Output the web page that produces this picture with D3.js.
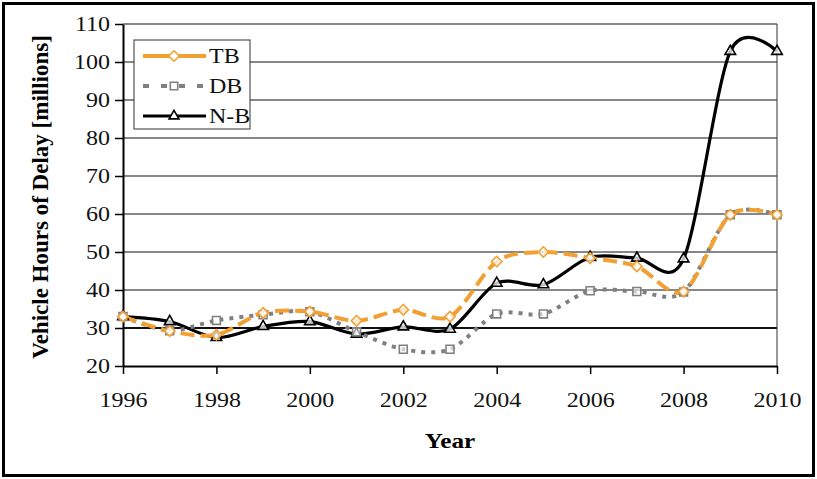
<!DOCTYPE html>
<html>
<head>
<meta charset="utf-8">
<script src="https://cdn.jsdelivr.net/npm/d3@7"></script>
<style>
  body { margin: 0; background: #fff; }
  text { font-family: "Liberation Serif", "Times New Roman", serif; }
</style>
</head>
<body>
<div id="chart"></div>
<script>
const years = [1996, 1997, 1998, 1999, 2000, 2001, 2002, 2003, 2004, 2005, 2006, 2007, 2008, 2009, 2010];
const tbValues = [33, 29.2, 28.2, 34, 34.3, 31.9, 34.8, 33, 47.5, 50, 48.4, 46.2, 39.6, 59.8, 59.8];
const dbValues = [33, 29.3, 32, 33.5, 34.3, 29, 24.4, 24.4, 33.7, 33.7, 39.8, 39.6, 39.5, 59.8, 59.8];
const nbValues = [33, 31.7, 27.5, 30.4, 31.7, 28.4, 30.3, 29.7, 41.8, 41.4, 48.6, 48.4, 48.2, 102.8, 102.8];
const xTicks = [1996, 1998, 2000, 2002, 2004, 2006, 2008, 2010];
const yTicks = [20, 30, 40, 50, 60, 70, 80, 90, 100, 110];

const series = [
  { name: 'TB',  values: tbValues, color: '#F2A032', width: 4,   dash: '14,6', marker: d3.symbolDiamond2, mColor: '#F2A032' },
  { name: 'DB',  values: dbValues, color: '#808080', width: 4,   dash: '4,6',  marker: d3.symbolSquare2,  mColor: '#808080' },
  { name: 'N-B', values: nbValues, color: '#000000', width: 3.2, dash: null,   marker: d3.symbolTriangle2, mColor: '#000000' }
];

const W = 817, H = 479;
const margin = { top: 24, right: 40, bottom: 113, left: 123 };
const stretch = 1.2; // the reference text is wide

const svg = d3.select('#chart').append('svg')
  .attr('width', W).attr('height', H);

// outer frame
svg.append('rect')
  .attr('x', 3.5).attr('y', 3.5).attr('width', W - 7).attr('height', H - 7)
  .attr('fill', 'none').attr('stroke', '#000').attr('stroke-width', 3);

const x = d3.scaleLinear().domain([1996, 2010]).range([margin.left, W - margin.right]);
const y = d3.scaleLinear().domain([20, 110]).range([H - margin.bottom, margin.top]);

// gridlines
svg.append('g').selectAll('line').data(yTicks.filter(d => d > 20)).join('line')
  .attr('x1', x(1996)).attr('x2', x(2010))
  .attr('y1', d => y(d)).attr('y2', d => y(d))
  .attr('stroke', '#111').attr('stroke-width', d => d === 30 ? 1.8 : 1.1);

// right border of plot area
svg.append('line')
  .attr('x1', x(2010)).attr('x2', x(2010)).attr('y1', y(110)).attr('y2', y(20))
  .attr('stroke', '#333').attr('stroke-width', 1);

// axes
const xAxis = svg.append('g')
  .attr('transform', `translate(0,${y(20)})`)
  .call(d3.axisBottom(x).tickValues(xTicks).tickFormat(d3.format('d')).tickSize(8).tickSizeOuter(0).tickPadding(17));
const yAxis = svg.append('g')
  .attr('transform', `translate(${x(1996)},0)`)
  .call(d3.axisLeft(y).tickValues(yTicks).tickSize(8).tickSizeOuter(0).tickPadding(5));

[xAxis, yAxis].forEach(a => {
  a.select('.domain').attr('stroke', '#000').attr('stroke-width', 2);
  a.selectAll('.tick line').attr('stroke', '#000').attr('stroke-width', 1.5);
  a.selectAll('.tick text').attr('fill', '#111').style('font-size', '20px')
    .style('font-family', '"Liberation Serif", serif');
});
xAxis.selectAll('.tick text').attr('dy', '0.8em');

// lines
const line = d3.line()
  .x((d, i) => x(years[i]))
  .y(d => y(d))
  .curve(d3.curveCardinal.tension(0.1));

const order = [series[2], series[1], series[0]];
order.forEach(s => {
  svg.append('path')
    .datum(s.values)
    .attr('d', line)
    .attr('fill', 'none')
    .attr('stroke', s.color)
    .attr('stroke-width', s.width)
    .attr('stroke-dasharray', s.dash)
    .attr('stroke-linejoin', 'round');
});
order.forEach(s => {
  svg.append('g').selectAll('path').data(s.values).join('path')
    .attr('transform', (d, i) => `translate(${x(years[i])},${y(d)})`)
    .attr('d', d3.symbol().type(s.marker).size(s.name === 'TB' ? 70 : 80))
    .attr('fill', s.name === 'DB' ? 'rgba(255,255,255,0.6)' : 'rgba(255,255,255,0.75)')
    .attr('stroke', s.mColor)
    .attr('stroke-width', 1.6);
});

// legend
const lg = svg.append('g');
lg.append('rect')
  .attr('x', 134).attr('y', 40).attr('width', 116).attr('height', 89)
  .attr('fill', '#fff').attr('stroke', '#333').attr('stroke-width', 1);
series.forEach((s, i) => {
  const ly = 56 + i * 30;
  lg.append('line')
    .attr('x1', 143).attr('x2', 206).attr('y1', ly).attr('y2', ly)
    .attr('stroke', s.color).attr('stroke-width', s.width)
    .attr('stroke-dasharray', s.name === 'TB' ? '30,6' : s.name === 'DB' ? '6,12' : null);
  lg.append('path')
    .attr('transform', `translate(174,${ly})`)
    .attr('d', d3.symbol().type(s.marker).size(70))
    .attr('fill', '#fff').attr('stroke', s.mColor).attr('stroke-width', 1.6);
  lg.append('text')
    .attr('class', 'wide')
    .attr('x', 209).attr('y', ly + 7)
    .style('font-size', '20px').attr('fill', '#111')
    .text(s.name);
});

// axis titles
svg.append('text')
  .attr('class', 'wide')
  .attr('x', (x(1996) + x(2010)) / 2).attr('y', 448)
  .attr('text-anchor', 'middle')
  .style('font-size', '21px').style('font-weight', 'bold')
  .text('Year');

svg.append('text')
  .attr('transform', `translate(48,${(y(20) + y(110)) / 2 + 2}) rotate(-90)`)
  .attr('text-anchor', 'middle')
  .style('font-size', '23px').style('font-weight', 'bold')
  .text('Vehicle Hours of Delay [millions]');

// widen horizontal labels
svg.selectAll('.tick text, text.wide').each(function() {
  const len = this.getComputedTextLength();
  d3.select(this).attr('textLength', len * stretch).attr('lengthAdjust', 'spacingAndGlyphs');
});
</script>
</body>
</html>
